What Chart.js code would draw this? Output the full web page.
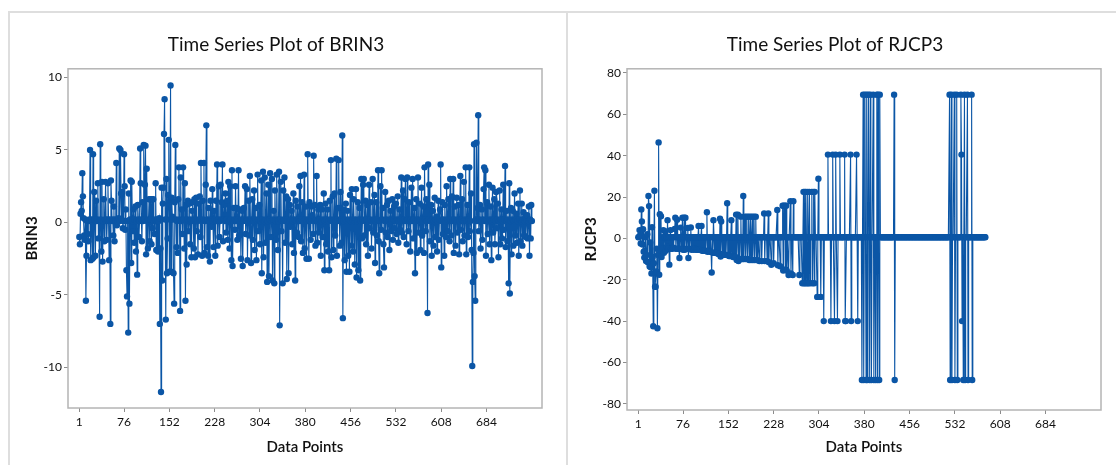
<!DOCTYPE html>
<html>
<head>
<meta charset="utf-8">
<script src="https://cdn.jsdelivr.net/npm/chart.js@4.4.0/dist/chart.umd.min.js"></script>
<style>
  body { margin: 0; background: #fff; width: 1116px; height: 465px; overflow: hidden; position: relative; }
  .frame { position: absolute; top: 11px; height: 470px; border-top: 2px solid #dedede; border-left: 2px solid #dedede; }
  #f1 { left: 8px; width: 1120px; }
  #f2 { left: 566px; width: 560px; }
  canvas { position: absolute; }
  #c1 { left: 10px; top: 12px; }
  #c2 { left: 569px; top: 12px; }
</style>
</head>
<body>
<div class="frame" id="f1"></div>
<div class="frame" id="f2"></div>
<canvas id="c1" width="556" height="453"></canvas>
<canvas id="c2" width="563" height="453"></canvas>
<script>
// tick labels shared by both plots
var xTicks = [1, 76, 152, 228, 304, 380, 456, 532, 608, 684];
var yTicksBrin = [-10, -5, 0, 5, 10];
var yTicksRjcp = [-80, -60, -40, -20, 0, 20, 40, 60, 80];

// BRIN3 (760 points)
var brin3 = [
  -1.0, -1.5, 0.6, 1.4, 0.8, 3.4, 1.8, 0.3, -0.9, -1.2, 0.2, -5.4, -2.3, 0.1, -0.8, -1.3, 0.1, 0.2, 5.0, -2.6,
  0.1, 0.2, -2.5, 4.7, -2.4, 2.1, 0.2, -2.3, 1.5, 0.1, 0.2, 2.7, -1.1, 0.1, -6.5, 5.4, 0.2, -2.0, 2.8, -2.7,
  0.1, 1.6, -1.3, 0.2, 2.8, 0.1, -1.2, 0.2, 2.7, 0.1, -2.6, 0.2, -7.0, 2.9, 1.5, 0.1, 0.2, -0.9, 1.1, -1.3,
  0.2, 0.1, 4.1, -0.2, 0.1, 0.2, 0.3, 5.1, 0.1, 5.0, 2.0, 0.2, 2.1, -0.4, 0.1, 4.7, 2.5, -0.5, 0.9, -3.3,
  -5.1, 0.1, -7.6, 2.0, -5.6, 0.2, 2.9, -2.8, 2.8, 0.1, -0.6, 0.9, -1.4, 0.2, 1.1, -2.0, 0.1, -3.6, 1.2, 0.2,
  -1.0, 0.1, 5.1, 2.7, 0.2, -1.3, 1.4, 0.1, 5.35, 0.2, 2.6, 5.3, -2.2, 3.7, 0.1, -1.8, 0.2, 1.6, -1.3, 1.6,
  0.2, -1.5, 1.6, -0.4, 1.6, 0.1, -0.8, 0.2, 2.7, -1.9, 0.1, 0.2, -2.0, 0.1, 0.3, -7.0, -1.8, -11.7, 2.4, -4.0,
  1.3, 2.4, 6.1, 8.5, 0.2, -6.7, 3.0, -3.5, -1.1, 1.9, 5.7, -3.4, 0.2, 9.45, -3.4, 1.7, 0.4, 0.2, -3.5, -5.6,
  1.4, 5.35, 0.2, -1.7, 0.1, -2.1, 1.6, 3.8, 0.2, -6.1, 3.1, 0.1, 0.9, -0.8, 3.8, 0.2, -1.8, 2.7, -5.4, 1.2,
  -2.9, 0.2, 1.5, -0.6, 0.1, 1.3, -1.5, 0.2, -2.4, 0.8, 1.4, 0.1, -1.8, 1.6, -2.4, 0.2, 1.7, -0.6, 0.1, -2.2,
  1.3, 0.2, 1.8, -1.0, 4.1, 0.1, -2.3, 1.5, 0.2, 4.1, -2.1, 0.1, 2.6, 6.7, -1.7, 0.2, -2.3, 1.0, 0.1, -2.7,
  1.5, 0.2, -0.3, 2.3, 0.1, -1.7, 0.8, 0.2, -2.3, 1.5, 0.1, 4.0, -1.6, 0.2, 2.5, -1.0, 0.1, 2.6, 0.2, 1.4,
  4.0, -1.3, 0.2, 1.2, 0.1, 2.0, -0.7, 0.2, 1.5, -1.2, 2.8, 0.1, -1.8, 2.5, 0.2, -2.6, 3.6, -3.0, 0.1, 1.0,
  0.2, -0.5, 2.5, 0.1, 1.0, -1.2, 0.2, 3.6, -0.9, 0.9, 0.1, -2.5, 0.2, 0.8, -3.0, 0.1, 1.0, 0.2, 2.5, -0.8,
  0.1, 2.3, -2.6, 0.2, 1.5, -0.9, 3.2, 0.1, -2.8, 0.2, 1.6, -1.2, 0.1, 2.2, -1.9, 0.2, 1.0, -2.6, 0.1, 3.3,
  -0.6, 0.2, 1.2, -1.5, 0.1, 2.9, -3.5, 0.2, 3.5, -2.4, 0.1, 3.1, -1.4, 0.2, 2.0, -4.1, 0.1, 2.6, -3.7, 0.2,
  3.4, -1.0, 0.1, 3.0, -4.0, 0.2, 0.8, -4.2, 2.2, 0.1, -1.2, 3.3, 0.2, -1.9, 0.1, 3.5, -7.1, 0.2, 2.8, -0.6,
  0.1, -4.2, 2.2, 0.2, 3.1, -1.4, 0.1, 1.8, -3.9, 0.2, 1.6, -3.5, 0.1, 1.2, -0.3, 0.2, 0.8, -1.5, 0.1, 2.0,
  -2.1, 0.2, -4.0, 1.5, 0.1, -0.7, 1.1, 0.2, -1.0, 2.5, 0.1, 3.2, -1.3, 0.2, 1.4, -2.1, 0.1, 3.3, -1.8, 0.2,
  1.1, -2.5, 0.1, 4.7, 0.2, -2.5, 1.4, 0.1, -1.2, 1.1, 0.2, 0.5, -0.8, 4.6, 0.1, 1.2, -1.6, 0.2, 3.2, -1.4,
  0.1, 0.9, -0.7, 0.2, 1.2, -2.3, 0.1, 0.9, -1.0, 0.2, 2.0, -3.3, 0.1, 1.3, -1.5, 0.2, 0.9, -2.0, 0.1, -3.3,
  1.5, 0.2, 4.3, -2.4, 0.1, 1.8, -1.9, 0.2, 2.0, -0.9, 0.1, 4.4, -2.3, 0.2, 1.0, 4.3, 0.1, -1.6, 2.1, 0.2,
  -1.4, 6.0, -6.6, 0.1, 0.9, -2.6, 0.2, 1.3, -3.4, 0.1, 0.8, -2.3, 0.2, -3.4, 1.9, 0.1, -1.6, 2.3, 0.2, -2.0,
  1.6, 0.1, -2.9, 0.2, 2.3, -3.8, 0.1, 1.4, -3.3, 0.2, 1.0, -4.0, 0.1, 3.0, -1.1, 0.2, 2.6, 3.0, -0.9, 0.1,
  1.5, -1.5, 0.2, 1.2, -2.3, 0.1, 2.6, -0.4, 0.2, 1.4, -1.8, 0.1, 3.0, -0.7, 0.2, 1.9, -2.8, 0.1, 1.4, -0.9,
  0.2, 3.6, -1.3, -3.5, 0.1, 2.5, -0.5, 3.6, 0.2, 1.0, -1.5, -3.1, 0.1, 2.1, -0.7, 0.2, 1.2, -1.0, 0.1, 1.5,
  -1.9, 0.2, 0.8, -0.6, 0.1, 1.6, -1.2, 0.2, 1.1, -0.4, 0.1, 1.3, -0.8, 0.2, 1.8, -1.4, 0.1, 0.9, -0.5, 0.2,
  3.1, -0.7, 0.1, 2.2, -1.0, 0.2, 1.6, 3.0, 0.1, -1.5, 3.1, 0.2, -0.6, 1.4, 0.1, -2.0, 0.2, 2.4, 0.1, 3.0,
  -1.1, 0.2, 1.0, -3.5, 0.1, 1.6, -2.1, 0.2, 3.1, -0.7, 0.1, 1.3, -1.9, 0.2, 2.4, -0.9, 0.1, 1.1, -2.1, 3.8,
  0.2, -0.6, 1.6, 0.1, -6.25, 4.0, 0.2, 2.6, -1.3, 0.1, 1.2, -2.3, 0.2, 0.8, -1.6, 0.1, 1.7, -1.0, 0.2, 0.4,
  -2.0, 0.1, 1.5, -1.2, 0.2, 0.9, 4.0, -3.1, 0.1, 1.4, -0.8, 0.2, -2.3, 1.2, 0.1, -1.0, 2.5, 0.2, -0.6, 1.6,
  0.1, -1.3, 3.0, 0.2, -0.9, 1.8, 0.1, 3.0, -2.1, 0.2, 1.1, -1.6, 0.1, 1.7, -0.7, 0.2, 1.2, -2.2, 0.1, 3.2,
  -0.5, 0.2, 1.6, -1.3, 0.1, 2.8, -0.9, 0.2, 3.8, -2.2, 0.1, 1.2, -1.0, 0.2, 3.8, -0.6, 0.1, 2.0, -1.9, -9.9,
  -4.1, -2.1, 5.4, -3.7, -5.4, 0.2, 5.5, 0.1, 1.0, 7.4, -0.6, 0.2, 1.2, -1.8, 0.1, 0.9, -1.2, 0.2, 2.3, 3.8,
  0.1, 3.6, -2.3, 0.2, 1.4, -0.8, 0.1, 2.6, -1.5, 0.2, 1.1, -2.6, 0.1, 2.4, -0.7, 0.2, 1.6, -1.5, 0.1, 2.1,
  -0.4, 0.2, 1.3, -2.4, 0.1, 2.2, -1.5, 0.2, 0.9, -1.1, 0.1, 2.6, -0.5, 0.2, 3.9, -1.7, 0.1, 0.8, -1.3, 0.2,
  -4.2, 2.7, -4.9, 0.1, 1.0, -2.2, 0.2, 0.8, -1.6, 0.1, 2.0, -0.9, 0.2, 0.6, -1.4, 0.1, 1.3, -2.3, 0.2, 2.2,
  -1.3, 0.1, 1.3, -1.6, 0.2, 0.7, -0.9, 0.1, 0.3, -1.0, 0.2, 0.5, -1.1, 0.1, 1.1, -2.3, 0.2, -1.1, 1.2, 0.1
];

// RJCP3 (583 points)
var rjcp3 = [
  0.6, 0.6, 4.0, 1.5, -2.5, 14.0, 8.2, -3.0, 4.4, -6.5, -9.3, -6.0, 0.6, -11.0, -8.0, 2.0, -11.5, 20.5, 15.6, -13.6,
  -2.0, -14.0, -17.0, 5.4, -9.0, -42.5, -12.0, 23.0, -23.4, -23.4, -16.0, -5.0, -43.5, -8.0, 46.4, -17.6, 11.7, -6.0, 10.7, -9.0,
  0.6, -5.0, 4.0, -7.0, 0.6, 3.5, -6.0, 0.6, -4.0, 8.8, -5.0, 0.6, -12.7, 0.6, 4.0, -5.0, 0.6, -5.0, 0.6, -4.5,
  0.6, 4.5, 10.0, -5.0, 0.6, 9.0, -5.0, 0.6, -5.0, -9.5, 0.6, 5.2, -5.0, 0.6, 10.0, -5.5, 0.6, 10.0, -5.5, 10.0,
  0.6, -5.0, 0.6, 5.0, -9.5, 0.6, -5.0, 0.6, 5.3, -5.5, 0.6, -5.0, 0.6, -5.5, 0.6, -5.0, 0.6, -5.5, 0.6, -5.5,
  0.6, 6.0, -5.5, 0.6, -5.5, 0.6, 6.0, -6.0, 0.6, -6.0, 0.6, -6.0, 0.6, -6.0, 0.6, 12.6, -6.5, 0.6, -6.0, 0.6,
  -6.5, 0.6, -6.5, -16.5, 0.6, -7.0, 8.8, 0.6, -7.0, 0.6, -7.0, 0.6, -7.0, 0.6, -7.5, 0.6, -7.5, 9.5, -8.8, 8.2,
  0.6, -7.5, 0.6, -7.5, 0.6, -8.0, 0.6, -8.0, 0.6, 17.0, -8.0, 0.6, -8.5, 0.6, -8.5, 0.6, 8.8, -8.5, 0.6, -9.0,
  0.6, -9.0, 0.6, -9.0, 11.5, -10.5, 0.6, 11.5, -11.0, 0.6, -10.0, 0.6, 10.5, -10.0, 0.6, -10.0, 20.5, -10.0, 0.6, 10.5,
  -10.0, 0.6, 10.5, -10.0, 0.6, 10.5, -10.5, 0.6, 10.5, -10.5, 0.6, 10.5, -10.5, 0.6, 10.5, -10.5, 0.6, 10.5, -10.5, 0.6,
  -10.5, 0.6, 0.6, -11.0, 0.6, 0.6, 0.6, -11.0, 0.6, 0.6, 0.6, 12.0, -11.0, 0.6, 0.6, 0.6, -11.0, 0.6, 12.0, -11.5,
  0.6, 0.6, 0.6, -12.8, 0.6, 0.6, 0.6, -12.0, 0.6, 0.6, 0.6, 0.6, 0.6, 13.7, -13.0, 0.6, 0.6, 0.6, -13.5, 0.6,
  0.6, 0.6, 15.8, -15.6, 15.8, 0.6, 15.8, -15.0, 15.8, -15.6, 0.6, 0.6, -17.7, 0.6, 0.6, 18.0, -17.0, 0.6, 0.6, -17.7,
  18.0, 0.6, 0.6, 0.6, 0.6, 0.6, 0.6, 0.6, 0.6, 0.6, -17.7, 0.6, 0.6, 0.6, 0.6, -21.7, 0.6, 22.5, -21.7, 22.5,
  -21.7, 22.5, 0.6, -21.7, 22.5, -21.7, 0.6, 22.5, -21.7, 0.6, 0.6, 22.5, -21.7, 0.6, 22.5, -21.7, 22.5, 0.6, 0.6, 0.6,
  -28.3, 0.6, 28.8, 0.6, 0.6, 0.6, -28.3, 0.6, 0.6, 0.6, 0.6, -40.0, 0.6, 0.6, 0.6, 0.6, 0.6, 0.6, 40.5, 0.6,
  0.6, 0.6, 0.6, -40.0, 0.6, 0.6, 40.5, 0.6, 0.6, -40.0, 0.6, 40.5, 0.6, 0.6, -40.0, 0.6, 0.6, 0.6, 40.5, 0.6,
  0.6, 0.6, 0.6, 0.6, 0.6, 0.6, 40.5, -40.0, -40.0, 0.6, 0.6, 0.6, 0.6, 0.6, 0.6, 0.6, 40.5, -40.0, 0.6, 0.6,
  0.6, 0.6, 0.6, 0.6, 0.6, 0.6, 40.5, 0.6, -40.0, 0.6, 0.6, 0.6, 0.6, 0.6, 0.6, -68.5, 0.6, 69.5, -68.5, 0.6,
  69.5, 0.6, -68.5, 69.5, -68.5, 0.6, 69.5, 0.6, -68.5, 69.5, 0.6, -68.5, 0.6, 0.6, 69.5, -68.5, 0.6, 0.6, -68.5, 0.6,
  69.5, -68.5, 69.5, 0.6, -68.5, 69.5, 0.6, 0.6, 0.6, 0.6, 0.6, 0.6, 0.6, 0.6, 0.6, 0.6, 0.6, 0.6, 0.6, 0.6,
  0.6, 0.6, 0.6, 0.6, 0.6, 0.6, 0.6, 0.6, 0.6, 69.5, -68.5, 0.6, 0.6, 0.6, 0.6, 0.6, 0.6, 0.6, 0.6, 0.6,
  0.6, 0.6, 0.6, 0.6, 0.6, 0.6, 0.6, 0.6, 0.6, 0.6, 0.6, 0.6, 0.6, 0.6, 0.6, 0.6, 0.6, 0.6, 0.6, 0.6,
  0.6, 0.6, 0.6, 0.6, 0.6, 0.6, 0.6, 0.6, 0.6, 0.6, 0.6, 0.6, 0.6, 0.6, 0.6, 0.6, 0.6, 0.6, 0.6, 0.6,
  0.6, 0.6, 0.6, 0.6, 0.6, 0.6, 0.6, 0.6, 0.6, 0.6, 0.6, 0.6, 0.6, 0.6, 0.6, 0.6, 0.6, 0.6, 0.6, 0.6,
  0.6, 0.6, 0.6, 0.6, 0.6, 0.6, 0.6, 0.6, 0.6, 0.6, 0.6, 0.6, 0.6, 0.6, 0.6, 0.6, 0.6, 0.6, 0.6, 0.6,
  0.6, 0.6, 69.5, -68.5, 0.6, 69.5, -68.5, 0.6, 0.6, 0.6, 69.5, -68.5, 0.6, 0.6, 69.5, -68.5, 0.6, 0.6, 0.6, 0.6,
  0.6, 69.5, 40.5, -40.0, 0.6, -68.5, 0.6, 69.5, -68.5, 0.6, 0.6, 0.6, 69.5, -68.5, 0.6, 0.6, 0.6, 0.6, 0.6, 69.5,
  -68.5, 0.6, 0.6, 0.6, 0.6, 0.6, 0.6, 0.6, 0.6, 0.6, 0.6, 0.6, 0.6, 0.6, 0.6, 0.6, 0.6, 0.6, 0.6, 0.6,
  0.6, 0.6, 0.6
];

var blue = '#0b56a6';
var fontName = 'Lato';

// box round the plot area, like Minitab
var boxPlugin = {
  id: 'plotBox',
  afterDraw: function (chart) {
    var a = chart.chartArea;
    var ctx = chart.ctx;
    ctx.save();
    ctx.strokeStyle = '#b4b4b4';
    ctx.lineWidth = 1.5;
    ctx.strokeRect(a.left, a.top, a.right - a.left, a.bottom - a.top);
    ctx.restore();
  }
};

function makeChart(id, values, title, yTitle, yTicks, yMin, yMax, padRight, bottomH) {
  var pts = [];
  for (var i = 0; i < values.length; i++) {
    pts.push({ x: i + 1, y: values[i] });
  }
  return new Chart(document.getElementById(id), {
    type: 'line',
    data: {
      datasets: [{
        data: pts,
        borderColor: blue,
        borderWidth: 1.1,
        backgroundColor: blue,
        pointRadius: 3.2,
        pointBorderWidth: 0,
        pointBackgroundColor: blue,
        tension: 0
      }]
    },
    options: {
      responsive: false,
      animation: false,
      layout: { padding: { left: 0, right: padRight, top: 0, bottom: 0 } },
      plugins: {
        legend: { display: false },
        tooltip: { enabled: false },
        title: {
          display: true,
          text: title,
          color: '#111',
          font: { family: fontName, size: 19, weight: 'normal' },
          padding: { top: 21, bottom: 13 }
        }
      },
      scales: {
        x: {
          type: 'linear',
          min: -18,
          max: 777,
          afterBuildTicks: function (s) { s.ticks = xTicks.map(function (v) { return { value: v }; }); },
          afterFit: function (s) { s.height = bottomH; },
          grid: { drawOnChartArea: false, drawTicks: true, tickLength: 4, color: '#8c8c8c' },
          border: { display: false },
          ticks: { color: '#111', font: { family: fontName, size: 12 }, padding: 3, maxRotation: 0, autoSkip: false },
          title: { display: true, text: 'Data Points', color: '#111', font: { family: fontName, size: 15, weight: '600' }, padding: { top: 0, bottom: 9 } }
        },
        y: {
          min: yMin,
          max: yMax,
          afterBuildTicks: function (s) { s.ticks = yTicks.map(function (v) { return { value: v }; }); },
          afterFit: function (s) { s.width = 58; },
          grid: { drawOnChartArea: false, drawTicks: true, tickLength: 4, color: '#8c8c8c' },
          border: { display: false },
          ticks: { color: '#111', font: { family: fontName, size: 12 }, padding: 2 },
          title: { display: true, text: yTitle, color: '#111', font: { family: fontName, size: 15, weight: 'bold' }, padding: { top: 13, bottom: 0 } }
        }
      }
    },
    plugins: [boxPlugin]
  });
}

makeChart('c1', brin3, 'Time Series Plot of BRIN3', 'BRIN3', yTicksBrin, -12.8, 10.6, 24, 57);
makeChart('c2', rjcp3, 'Time Series Plot of RJCP3', 'RJCP3', yTicksRjcp, -83, 82, 31, 55);
</script>
</body>
</html>
